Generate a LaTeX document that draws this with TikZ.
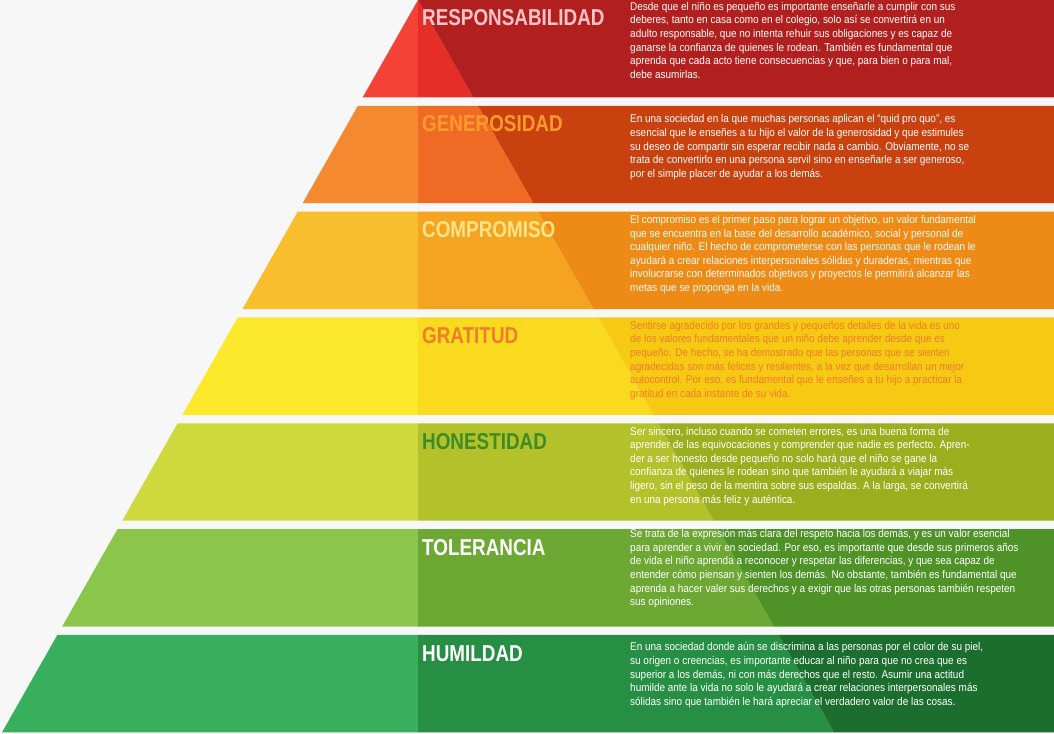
\documentclass[tikz,border=0pt]{standalone}
\usepackage{fontspec}
\setmainfont{Liberation Sans}
\newfontfamily\titlefont{Liberation Sans}[FakeStretch=0.82]
\newfontfamily\bodyfont{Liberation Sans}[FakeStretch=0.89]

% ==== COLOURS (left / middle / right part of each band) ====
\definecolor{fondo}{HTML}{F7F7F7}
\definecolor{resA}{HTML}{F44236}\definecolor{resB}{HTML}{E62E29}\definecolor{resC}{HTML}{B1201E}
\definecolor{genA}{HTML}{F5892F}\definecolor{genB}{HTML}{EF6A24}\definecolor{genC}{HTML}{C9410F}
\definecolor{comA}{HTML}{F9BE2E}\definecolor{comB}{HTML}{F5A422}\definecolor{comC}{HTML}{EE8A16}
\definecolor{graA}{HTML}{FDE92C}\definecolor{graB}{HTML}{F9DA1E}\definecolor{graC}{HTML}{F6C912}
\definecolor{honA}{HTML}{CDD93C}\definecolor{honB}{HTML}{B3C22A}\definecolor{honC}{HTML}{9AAF1E}
\definecolor{tolA}{HTML}{8CC54B}\definecolor{tolB}{HTML}{6DA834}\definecolor{tolC}{HTML}{4F9227}
\definecolor{humA}{HTML}{38AF5D}\definecolor{humB}{HTML}{278F43}\definecolor{humC}{HTML}{1C6E2F}
\definecolor{resT}{HTML}{FFC4C8}
\definecolor{genT}{HTML}{FF9B2B}
\definecolor{comT}{HTML}{FFE487}
\definecolor{graT}{HTML}{F27C2E}
\definecolor{honT}{HTML}{3F8B25}

\tikzset{
    titulo/.style={anchor=base west, inner sep=0pt, font=\titlefont\bfseries\fontsize{23}{26}\selectfont},
    texto/.style={anchor=north west, inner sep=0pt, align=left, font=\bodyfont\fontsize{11.2}{13.6}\selectfont}
}

\begin{document}
\begin{tikzpicture}[x=1pt, y=-1pt]
        % ==== BACKGROUND ====
        \fill[fondo] (0,0) rectangle (1054,733);
        \useasboundingbox (0,0) rectangle (1054,733);
        % ==== PYRAMID BANDS ====
        \foreach \i/\ca/\cb/\cc in {0/resA/resB/resC, 1/genA/genB/genC, 2/comA/comB/comC,
            3/graA/graB/graC, 4/honA/honB/honC, 5/tolA/tolB/tolC, 6/humA/humB/humC}{
            \pgfmathsetmacro\t{\i*105.83}
            \pgfmathsetmacro\b{\t+97.4}
            \fill[\ca] ({418-0.568*\t},\t) -- (418,\t) -- (418,\b) -- ({418-0.568*\b},\b) -- cycle;
            \fill[\cb] (418,\t) -- ({418+0.568*\t},\t) -- ({418+0.568*\b},\b) -- (418,\b) -- cycle;
            \fill[\cc] ({418+0.568*\t},\t) -- (1054,\t) -- (1054,\b) -- ({418+0.568*\b},\b) -- cycle;
        }
        % ==== TITLES ====
        \node[titulo, resT] (responsabilidad) at (422,26) {RESPONSABILIDAD};
        \node[titulo, genT] (generosidad) at (422,131.8) {GENEROSIDAD};
        \node[titulo, comT] (compromiso) at (422,237.7) {COMPROMISO};
        \node[titulo, graT] (gratitud) at (422,343.5) {GRATITUD};
        \node[titulo, honT] (honestidad) at (422,449.3) {HONESTIDAD};
        \node[titulo, white] (tolerancia) at (422,555.2) {TOLERANCIA};
        \node[titulo, white] (humildad) at (422,661) {HUMILDAD};
        % ==== TEXTS ====
        \node[texto, white] (txtresp) at (630,2) {Desde que el niño es pequeño es importante enseñarle a cumplir con sus\\
            deberes, tanto en casa como en el colegio, solo así se convertirá en un\\
            adulto responsable, que no intenta rehuir sus obligaciones y es capaz de\\
            ganarse la confianza de quienes le rodean. También es fundamental que\\
            aprenda que cada acto tiene consecuencias y que, para bien o para mal,\\
            debe asumirlas.};
        \node[texto, white] (txtgen) at (630,114.5) {En una sociedad en la que muchas personas aplican el “quid pro quo”, es\\
            esencial que le enseñes a tu hijo el valor de la generosidad y que estimules\\
            su deseo de compartir sin esperar recibir nada a cambio. Obviamente, no se\\
            trata de convertirlo en una persona servil sino en enseñarle a ser generoso,\\
            por el simple placer de ayudar a los demás.};
        \node[texto, white!92!comT] (txtcom) at (630,215.2) {El compromiso es el primer paso para lograr un objetivo, un valor fundamental\\
            que se encuentra en la base del desarrollo académico, social y personal de\\
            cualquier niño. El hecho de comprometerse con las personas que le rodean le\\
            ayudará a crear relaciones interpersonales sólidas y duraderas, mientras que\\
            involucrarse con determinados objetivos y proyectos le permitirá alcanzar las\\
            metas que se proponga en la vida.};
        \node[texto, graT] (txtgra) at (630,321) {Sentirse agradecido por los grandes y pequeños detalles de la vida es uno\\
            de los valores fundamentales que un niño debe aprender desde que es\\
            pequeño. De hecho, se ha demostrado que las personas que se sienten\\
            agradecidas son más felices y resilientes, a la vez que desarrollan un mejor\\
            autocontrol. Por eso, es fundamental que le enseñes a tu hijo a practicar la\\
            gratitud en cada instante de su vida.};
        \node[texto, white] (txthon) at (630,426.8) {Ser sincero, incluso cuando se cometen errores, es una buena forma de\\
            aprender de las equivocaciones y comprender que nadie es perfecto. Apren-\\
            der a ser honesto desde pequeño no solo hará que el niño se gane la\\
            confianza de quienes le rodean sino que también le ayudará a viajar más\\
            ligero, sin el peso de la mentira sobre sus espaldas. A la larga, se convertirá\\
            en una persona más feliz y auténtica.};
        \node[texto, white] (txttol) at (630,529.2) {Se trata de la expresión más clara del respeto hacia los demás, y es un valor esencial\\
            para aprender a vivir en sociedad. Por eso, es importante que desde sus primeros años\\
            de vida el niño aprenda a reconocer y respetar las diferencias, y que sea capaz de\\
            entender cómo piensan y sienten los demás. No obstante, también es fundamental que\\
            aprenda a hacer valer sus derechos y a exigir que las otras personas también respeten\\
            sus opiniones.};
        \node[texto, white] (txthum) at (630,642.5) {En una sociedad donde aún se discrimina a las personas por el color de su piel,\\
            su origen o creencias, es importante educar al niño para que no crea que es\\
            superior a los demás, ni con más derechos que el resto. Asumir una actitud\\
            humilde ante la vida no solo le ayudará a crear relaciones interpersonales más\\
            sólidas sino que también le hará apreciar el verdadero valor de las cosas.};
\end{tikzpicture}
\end{document}
